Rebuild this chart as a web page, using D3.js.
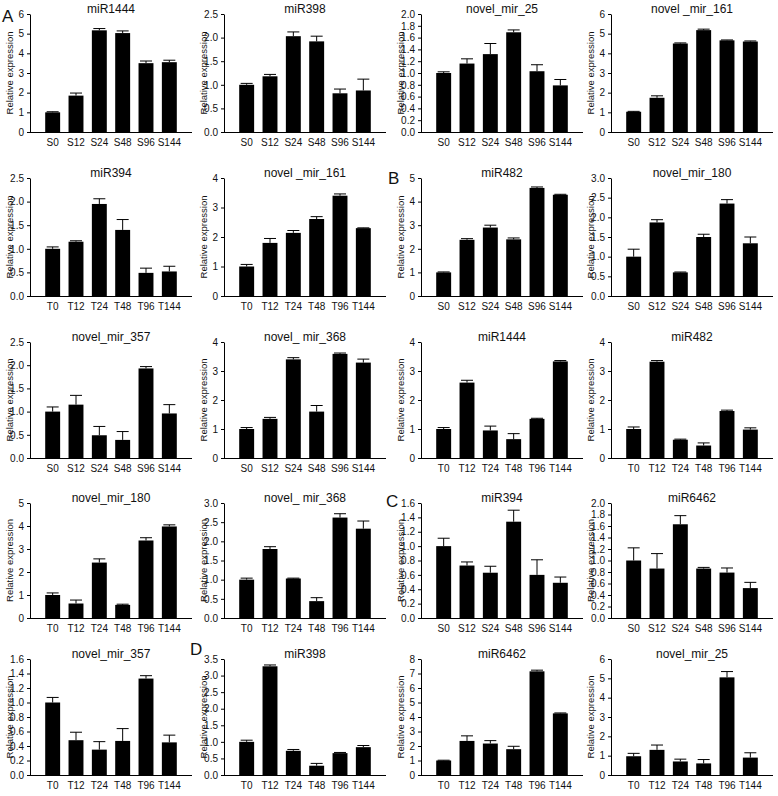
<!DOCTYPE html>
<html>
<head>
<meta charset="utf-8">
<script src="https://cdn.jsdelivr.net/npm/d3@7"></script>
<style>
  body { margin: 0; background: white; }
  text { font-family: Arial, "Liberation Sans", sans-serif; fill: #111; }
</style>
</head>
<body>
<svg></svg>
<script>
var w = 778;
var h = 796;

// time points
var sTimes = ["S0", "S12", "S24", "S48", "S96", "S144"];
var tTimes = ["T0", "T12", "T24", "T48", "T96", "T144"];

// panels, row by row
var titles = [
	"miR1444", "miR398", "novel_mir_25", "novel _mir_161",
	"miR394", "novel _mir_161", "miR482", "novel_mir_180",
	"novel_mir_357", "novel_ mir_368", "miR1444", "miR482",
	"novel_mir_180", "novel_ mir_368", "miR394", "miR6462",
	"novel_mir_357", "miR398", "miR6462", "novel_mir_25"
];
var groups = ["S", "S", "S", "S", "T", "T", "S", "S", "S", "S", "T", "T", "T", "T", "S", "S", "T", "T", "T", "T"];
var yMax = [6, 2.5, 2.0, 6, 2.5, 4, 5, 3.0, 2.5, 4, 4, 4, 5, 3.0, 1.6, 2.0, 1.6, 3.5, 8, 6];
var yStep = [1, 0.5, 0.2, 1, 0.5, 1, 1, 0.5, 0.5, 1, 1, 1, 1, 0.5, 0.2, 0.2, 0.2, 0.5, 1, 1];

var means = [
	[1.0, 1.85, 5.17, 5.03, 3.50, 3.55],
	[1.0, 1.18, 2.03, 1.92, 0.82, 0.88],
	[1.0, 1.16, 1.32, 1.69, 1.03, 0.79],
	[1.03, 1.74, 4.5, 5.18, 4.66, 4.6],
	[1.0, 1.15, 1.95, 1.40, 0.49, 0.52],
	[1.0, 1.80, 2.14, 2.61, 3.40, 2.30],
	[1.0, 2.38, 2.90, 2.40, 4.58, 4.29],
	[1.0, 1.87, 0.60, 1.50, 2.35, 1.34],
	[1.0, 1.15, 0.49, 0.39, 1.93, 0.96],
	[1.0, 1.35, 3.40, 1.60, 3.59, 3.29],
	[1.0, 2.60, 0.95, 0.65, 1.35, 3.33],
	[1.0, 3.32, 0.63, 0.43, 1.62, 0.98],
	[1.0, 0.63, 2.41, 0.57, 3.37, 3.98],
	[1.0, 1.80, 1.03, 0.44, 2.62, 2.33],
	[1.0, 0.73, 0.63, 1.34, 0.60, 0.49],
	[1.0, 0.86, 1.63, 0.86, 0.79, 0.52],
	[1.0, 0.48, 0.35, 0.47, 1.33, 0.45],
	[1.0, 3.28, 0.73, 0.28, 0.66, 0.84],
	[1.0, 2.35, 2.17, 1.78, 7.15, 4.25],
	[0.97, 1.30, 0.70, 0.60, 5.05, 0.90]
];
var errors = [
	[0.03, 0.13, 0.09, 0.11, 0.11, 0.1],
	[0.03, 0.04, 0.09, 0.11, 0.09, 0.24],
	[0.02, 0.08, 0.18, 0.04, 0.11, 0.1],
	[0.02, 0.1, 0.03, 0.05, 0.02, 0.03],
	[0.04, 0.02, 0.11, 0.22, 0.1, 0.11],
	[0.07, 0.15, 0.08, 0.08, 0.06, 0.01],
	[0.02, 0.05, 0.1, 0.06, 0.04, 0.02],
	[0.19, 0.07, 0.01, 0.07, 0.1, 0.16],
	[0.1, 0.2, 0.19, 0.18, 0.04, 0.19],
	[0.05, 0.05, 0.06, 0.21, 0.03, 0.12],
	[0.05, 0.08, 0.15, 0.19, 0.02, 0.03],
	[0.07, 0.04, 0.02, 0.09, 0.03, 0.06],
	[0.09, 0.15, 0.16, 0.03, 0.12, 0.07],
	[0.04, 0.06, 0.01, 0.09, 0.1, 0.2],
	[0.11, 0.05, 0.09, 0.16, 0.21, 0.08],
	[0.22, 0.26, 0.15, 0.02, 0.08, 0.1],
	[0.07, 0.11, 0.11, 0.17, 0.04, 0.1],
	[0.05, 0.04, 0.04, 0.07, 0.02, 0.05],
	[0.02, 0.35, 0.2, 0.2, 0.08, 0.03],
	[0.15, 0.25, 0.12, 0.2, 0.3, 0.25]
];

var panelLetters = [
	{ t: "A", x: 2, y: 22 },
	{ t: "B", x: 388, y: 184 },
	{ t: "C", x: 386, y: 507 },
	{ t: "D", x: 190, y: 655 }
];

// layout of the 5 x 4 grid
var colAxis = [30, 224, 421, 611];
var rowTop = [14, 178, 342, 503, 659];
var rowBottom = [132, 296, 458, 618, 775];
var plotW = 162;

var canvas = d3.select("svg")
	.attr("width", w)
	.attr("height", h)
	.style("background-color", "white");

function drawPanel(i) {
	var row = Math.floor(i / 4);
	var col = i % 4;
	var ax = colAxis[col];
	var top = rowTop[row];
	var bottom = rowBottom[row];
	var labels = groups[i] == "S" ? sTimes : tTimes;
	var data = labels.map(function (l, k) {
		return { label: l, mean: means[i][k], err: errors[i][k] };
	});

	var x = d3.scaleBand()
		.domain(labels)
		.range([ax + 11, ax + 151])
		.paddingInner(0.36)
		.paddingOuter(0.18);
	var y = d3.scaleLinear()
		.domain([0, yMax[i]])
		.range([bottom, top]);

	var g = canvas.append("g");

	g.selectAll(".bar")
		.data(data)
		.join("rect")
		.attr("class", "bar")
		.attr("x", function (d) { return x(d.label); })
		.attr("width", x.bandwidth())
		.attr("y", function (d) { return y(d.mean); })
		.attr("height", function (d) { return bottom - y(d.mean); })
		.attr("fill", "black");

	g.selectAll(".err")
		.data(data)
		.join("path")
		.attr("class", "err")
		.attr("d", function (d) {
			var cx = x(d.label) + x.bandwidth() / 2;
			var y0 = y(d.mean);
			var y1 = y(d.mean + d.err);
			return "M" + cx + "," + y0 + "V" + y1 + "M" + (cx - 6) + "," + y1 + "H" + (cx + 6);
		})
		.attr("stroke", "black")
		.attr("stroke-width", 1)
		.attr("fill", "none");

	var fmt = yStep[i] < 1 ? d3.format(".1f") : d3.format("d");
	var yAxis = g.append("g")
		.attr("transform", "translate(" + ax + ",0)")
		.call(d3.axisLeft(y)
			.tickValues(d3.range(0, yMax[i] + yStep[i] / 2, yStep[i]))
			.tickFormat(fmt)
			.tickSize(3)
			.tickSizeOuter(0)
			.tickPadding(3));
	yAxis.selectAll("text").style("font-size", "10px");
	yAxis.selectAll("line, path").attr("stroke", "black");

	var xAxis = g.append("g")
		.attr("transform", "translate(0," + bottom + ")")
		.call(d3.axisBottom(x).tickSize(0).tickPadding(7));
	xAxis.select(".domain").remove();
	xAxis.selectAll("text").style("font-size", "10px");

	g.append("line")
		.attr("x1", ax)
		.attr("x2", ax + plotW)
		.attr("y1", bottom + 0.5)
		.attr("y2", bottom + 0.5)
		.attr("stroke", "black");

	g.append("text")
		.attr("x", ax + plotW / 2)
		.attr("y", top - 1)
		.attr("text-anchor", "middle")
		.style("font-size", "12px")
		.text(titles[i]);

	g.append("text")
		.attr("transform", "translate(" + (ax - 17) + "," + ((top + bottom) / 2) + ") rotate(-90)")
		.attr("text-anchor", "middle")
		.style("font-size", "9.5px")
		.text("Relative expression");
}

for (var i = 0; i < titles.length; i++) {
	drawPanel(i);
}

canvas.selectAll(".letter")
	.data(panelLetters)
	.join("text")
	.attr("class", "letter")
	.attr("x", function (d) { return d.x; })
	.attr("y", function (d) { return d.y; })
	.style("font-size", "17px")
	.text(function (d) { return d.t; });
</script>
</body>
</html>
